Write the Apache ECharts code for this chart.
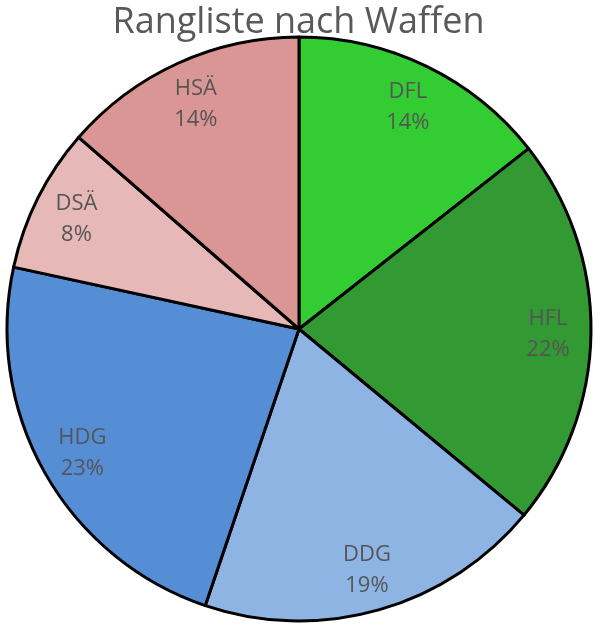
<!DOCTYPE html>
<html>
<head>
<meta charset="utf-8">
<script src="https://cdn.jsdelivr.net/npm/echarts@6/dist/echarts.min.js"></script>
<style>
  html, body { margin: 0; padding: 0; background: #fff; }
  #chart { width: 597px; height: 626px; }
</style>
</head>
<body>
<div id="chart"></div>
<script>
  // Waffen, im Uhrzeigersinn ab 12 Uhr
  var categories = ['DFL', 'HFL', 'DDG', 'HDG', 'DSÄ', 'HSÄ'];
  var counts = [18, 27, 24, 29, 10, 17];
  var colors = ['#33CC33', '#339933', '#8EB4E3', '#558ED5', '#E6B9B8', '#D99694'];

  var pieData = categories.map(function (name, i) {
    return { name: name, value: counts[i], itemStyle: { color: colors[i] } };
  });
  // zweite Serie nur fuer die Beschriftung (liegt weiter aussen)
  var labelData = categories.map(function (name, i) {
    return { name: name, value: counts[i] };
  });

  var chart = echarts.init(document.getElementById('chart'));
  chart.setOption({
    animation: false,
    title: {
      text: 'Rangliste nach Waffen',
      left: 'center',
      top: 0,
      textStyle: {
        fontFamily: 'Open Sans',
        fontSize: 36,
        fontWeight: 'normal',
        color: '#595959'
      }
    },
    series: [
      {
        name: 'Waffen',
        type: 'pie',
        center: [299, 329],
        radius: [0, 292],
        startAngle: 90,
        clockwise: true,
        silent: true,
        label: { show: false },
        labelLine: { show: false },
        itemStyle: { borderColor: '#000', borderWidth: 3 },
        data: pieData
      },
      {
        name: 'Beschriftung',
        type: 'pie',
        center: [299, 331],
        radius: [200, 292],
        startAngle: 90,
        clockwise: true,
        silent: true,
        itemStyle: { color: 'rgba(0,0,0,0)', borderWidth: 0 },
        label: {
          show: true,
          position: 'inside',
          formatter: function (p) {
            return p.name + '\n' + Math.round(p.percent) + '%';
          },
          fontFamily: 'Open Sans',
          fontSize: 22,
          lineHeight: 31,
          color: '#555555'
        },
        labelLine: { show: false },
        data: labelData
      }
    ]
  });
</script>
</body>
</html>
